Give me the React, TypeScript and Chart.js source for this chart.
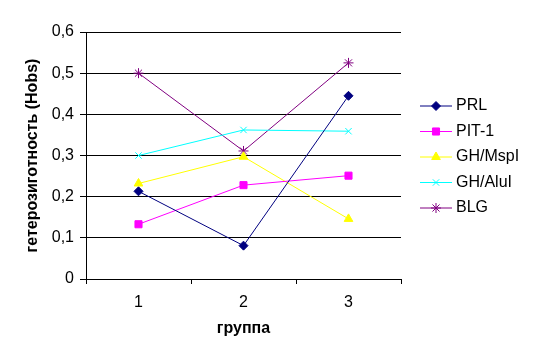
import React, { useEffect, useRef } from "react";
import { Chart, registerables } from "chart.js";
import { drawPoint } from "chart.js/helpers";

Chart.register(...registerables);

const categories = ["1", "2", "3"];
const seriesNames = ["PRL", "PIT-1", "GH/MspI", "GH/AluI", "BLG"];
const prl = [0.213, 0.081, 0.445];
const pit1 = [0.133, 0.228, 0.251];
const ghMspI = [0.232, 0.297, 0.146];
const ghAluI = [0.3, 0.362, 0.359];
const blg = [0.5, 0.311, 0.525];
const yTicks = [0, 0.1, 0.2, 0.3, 0.4, 0.5, 0.6];
const yTitle = "гетерозиготность (Hobs)";
const xTitle = "группа";

const colors = ["#000080", "#FF00FF", "#FFFF00", "#00FFFF", "#800080"];
const styles = ["rectRot", "rect", "triangle", "crossRot", "star"];
const radii = [4.5, 5, 5, 4.5, 5];
const FONT = "'Liberation Sans', Arial, sans-serif";

const legendPlugin = {
  id: "sideLegend",
  afterDraw(chart: any) {
    const { ctx, chartArea } = chart;
    const n = chart.data.datasets.length;
    const spacing = 25.5;
    const cy = (chartArea.top + chartArea.bottom) / 2 + 1.5;
    ctx.save();
    chart.data.datasets.forEach((ds: any, i: number) => {
      const y = cy + (i - (n - 1) / 2) * spacing;
      const x0 = chartArea.right + 19;
      const x1 = chartArea.right + 51;
      ctx.strokeStyle = ds.borderColor;
      ctx.lineWidth = 1;
      ctx.beginPath();
      ctx.moveTo(x0, y);
      ctx.lineTo(x1, y);
      ctx.stroke();
      ctx.fillStyle = ds.pointBackgroundColor;
      ctx.strokeStyle = ds.pointBorderColor;
      drawPoint(ctx, { pointStyle: ds.pointStyle, radius: ds.pointRadius, rotation: 0, borderWidth: 1 }, (x0 + x1) / 2, y);
      ctx.fillStyle = "#000";
      ctx.font = `16px ${FONT}`;
      ctx.textBaseline = "middle";
      ctx.textAlign = "left";
      ctx.fillText(ds.label, chartArea.right + 55, y);
    });
    ctx.restore();
  },
};

export default function App() {
  const ref = useRef<HTMLCanvasElement>(null);
  useEffect(() => {
    const values = [prl, pit1, ghMspI, ghAluI, blg];
    const chart = new Chart(ref.current!, {
      type: "line",
      data: {
        labels: categories,
        datasets: seriesNames.map((name, i) => ({
          label: name,
          data: values[i],
          borderColor: colors[i],
          backgroundColor: colors[i],
          pointBackgroundColor: colors[i],
          pointBorderColor: colors[i],
          pointStyle: styles[i] as any,
          pointRadius: radii[i],
          pointBorderWidth: 1,
          borderWidth: 1,
          tension: 0,
          fill: false,
        })),
      },
      options: {
        animation: false,
        responsive: false,
        layout: { padding: { top: 32, right: 133, left: 0, bottom: 0 } },
        plugins: {
          legend: { display: false },
          tooltip: { enabled: false },
        },
        scales: {
          x: {
            type: "category",
            offset: true,
            grid: {
              display: true,
              offset: true,
              drawOnChartArea: false,
              drawTicks: true,
              tickLength: 5,
              color: "#000",
            },
            border: { display: true, color: "#000", width: 1 },
            ticks: { color: "#000", font: { size: 16, family: FONT }, padding: 9, maxRotation: 0 },
            title: {
              display: true,
              text: xTitle,
              color: "#000",
              font: { size: 16, weight: "bold", family: FONT },
              padding: { top: 0, bottom: 26 },
            },
            afterFit: (s: any) => {
              s.height = 85;
            },
          },
          y: {
            min: 0,
            max: 0.6,
            afterBuildTicks: (s: any) => {
              s.ticks = yTicks.map((v) => ({ value: v }));
            },
            grid: { color: "#000", lineWidth: 1, tickLength: 6, drawTicks: true },
            border: { display: true, color: "#000", width: 1 },
            ticks: {
              color: "#000",
              font: { size: 16, family: FONT },
              padding: 6,
              callback: (v: any) => (Number(v) === 0 ? "0" : Number(v).toFixed(1).replace(".", ",")),
            },
            title: {
              display: true,
              text: yTitle,
              color: "#000",
              font: { size: 16, weight: "bold", family: FONT },
              padding: { top: 23, bottom: 0 },
            },
            afterFit: (s: any) => {
              s.width = 86;
            },
          },
        },
      },
      plugins: [legendPlugin],
    });
    return () => chart.destroy();
  }, []);
  return (
    <div style={{ position: "absolute", left: 0, top: 0, width: 534, height: 364, background: "#fff" }}>
      <canvas ref={ref} width={534} height={364} style={{ width: 534, height: 364 }} />
    </div>
  );
}
